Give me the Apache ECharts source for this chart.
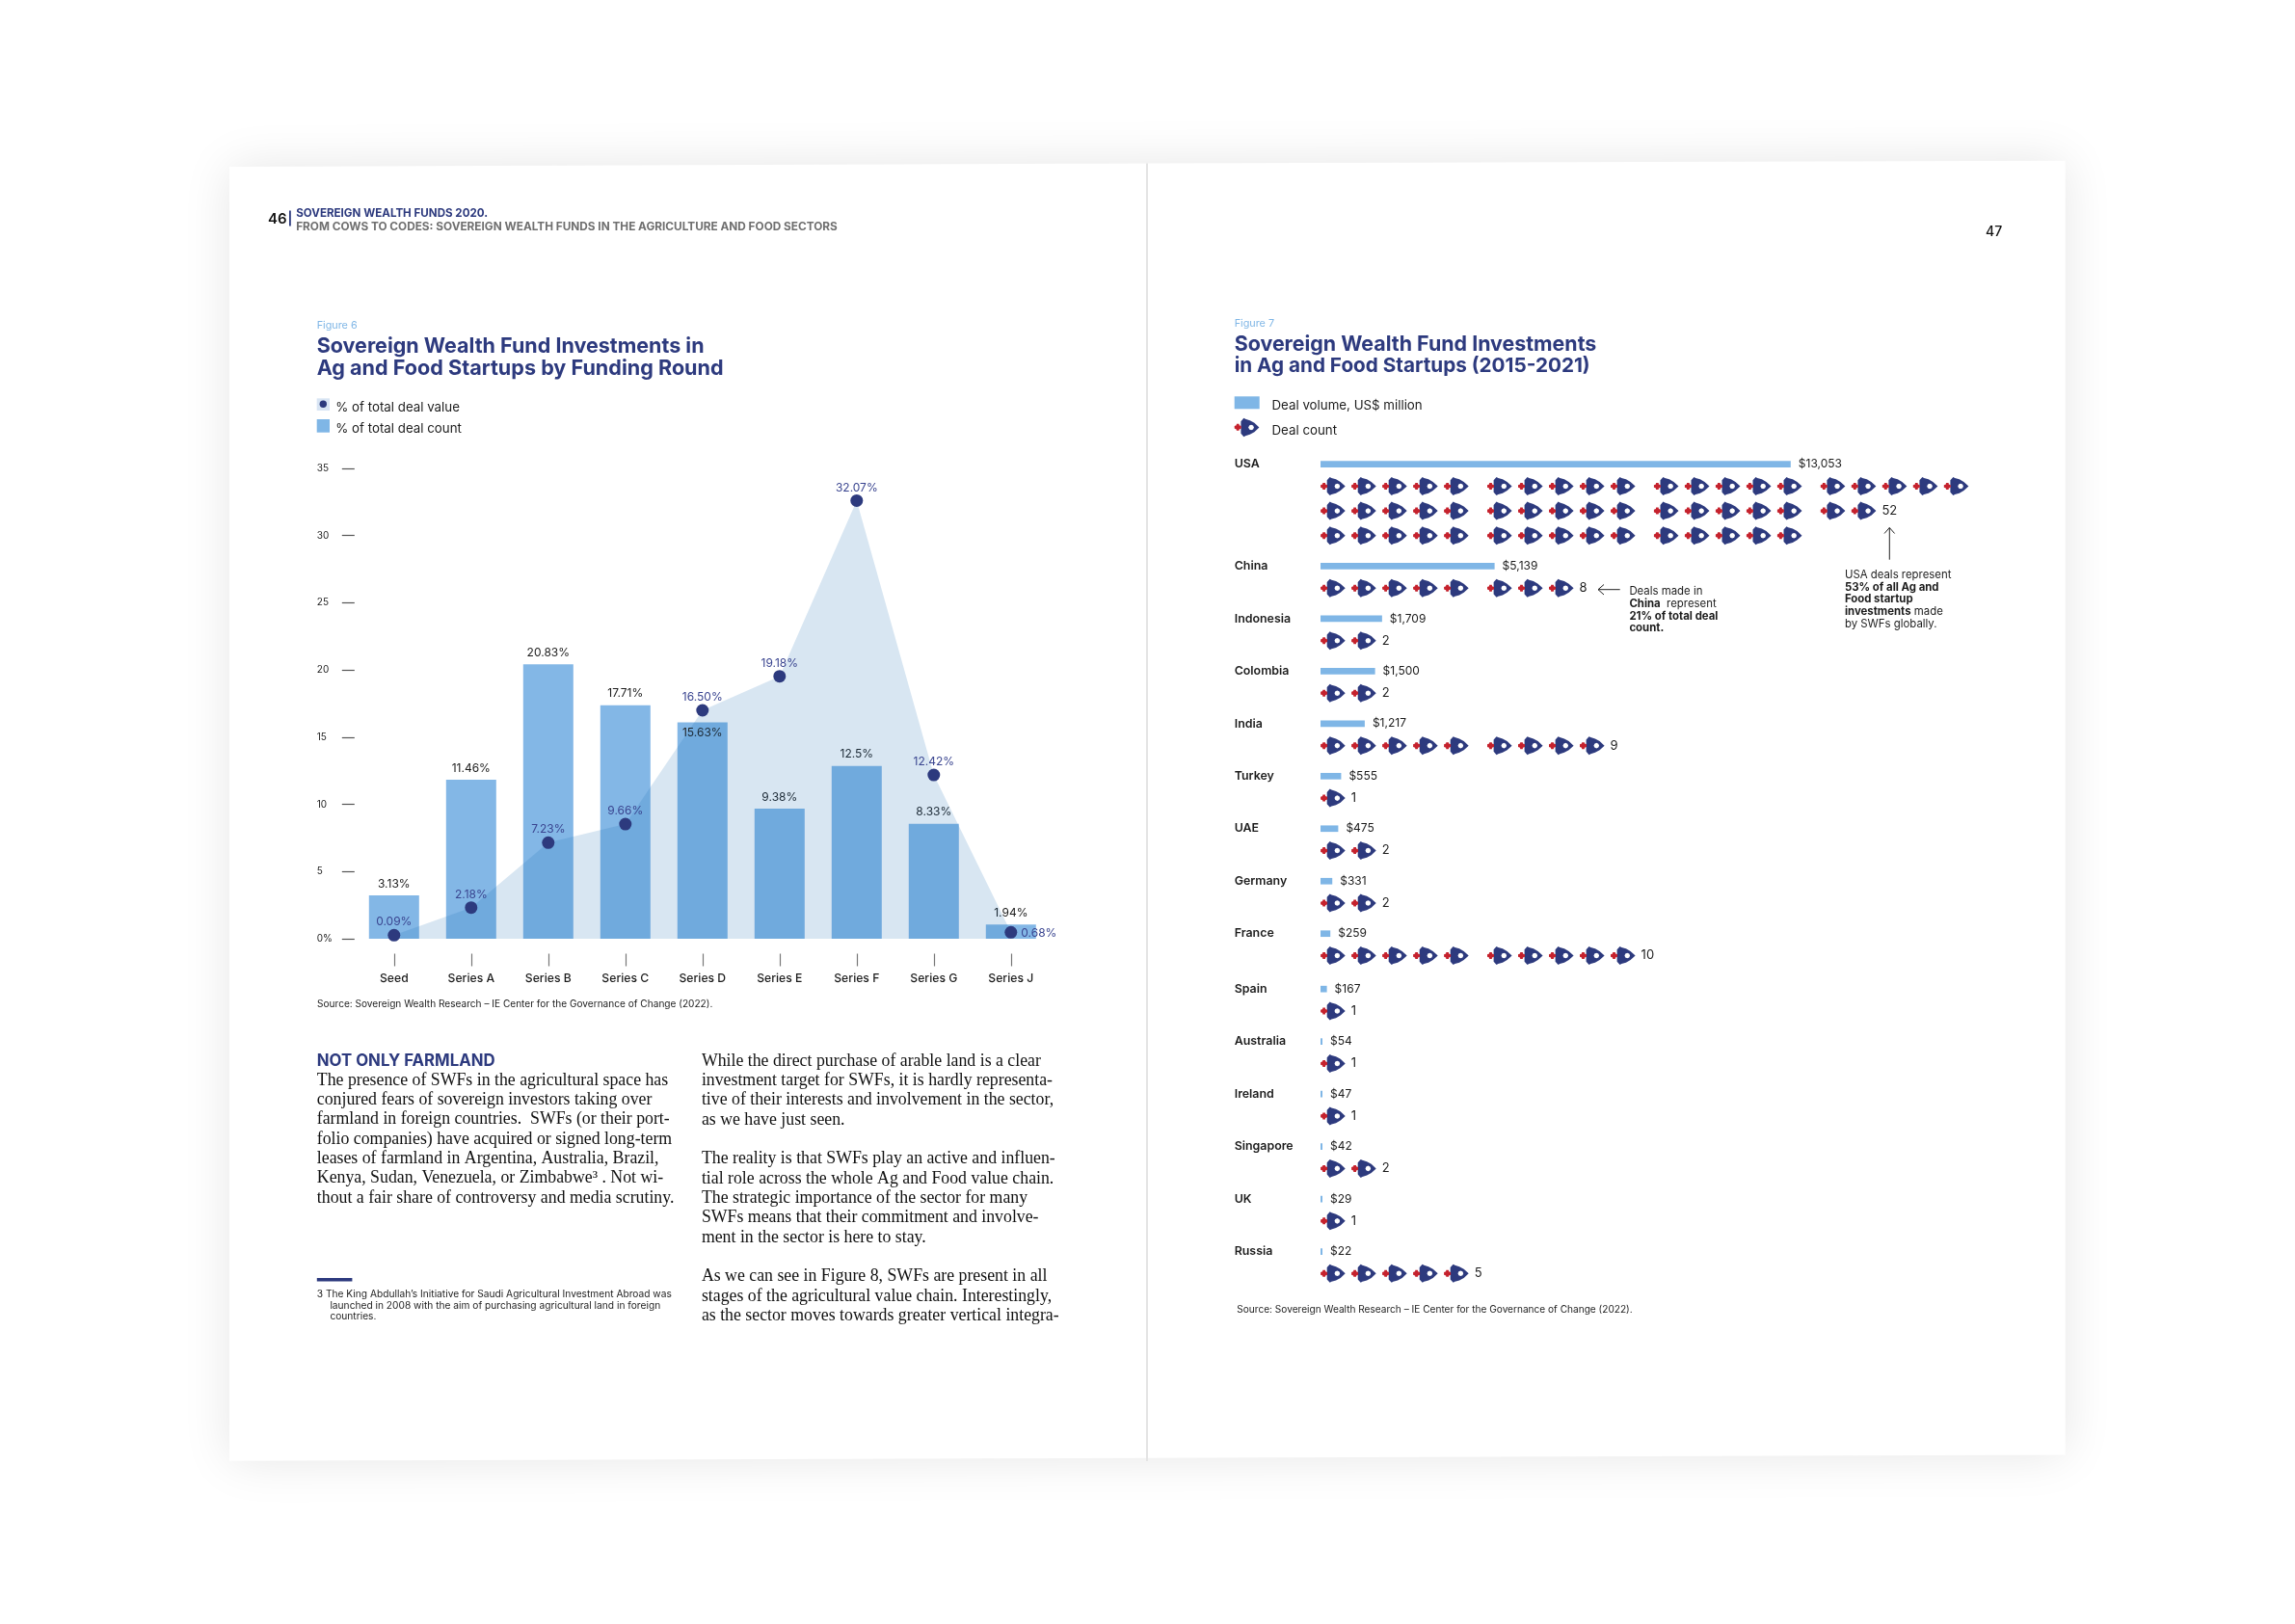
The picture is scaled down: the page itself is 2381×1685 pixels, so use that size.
<!DOCTYPE html>
<html><head><meta charset="utf-8">
<style>html,body{margin:0;padding:0;background:#fff}#c{width:2381px;height:1685px}</style>
<script src="https://cdn.jsdelivr.net/npm/echarts@6/dist/echarts.min.js"></script>
</head><body><div id="c"></div>
<script>
// ---------- Figure 6 data ----------
const rounds = ['Seed','Series A','Series B','Series C','Series D','Series E','Series F','Series G','Series J'];
const dealCount = [3.23,11.83,20.43,17.38,16.1,9.68,12.86,8.56,1.05];
const dealCountLabels = ['3.13%','11.46%','20.83%','17.71%','15.63%','9.38%','12.5%','8.33%','1.94%'];
const dealValue = [0.26,2.32,7.15,8.53,17.0,19.53,32.6,12.19,0.48];
const dealValueLabels = ['0.09%','2.18%','7.23%','9.66%','16.50%','19.18%','32.07%','12.42%','0.68%'];
const pctTicks = ['0%','5','10','15','20','25','30','35'];
// ---------- Figure 7 data ----------
const countries = ['USA','China','Indonesia','Colombia','India','Turkey','UAE','Germany','France','Spain','Australia','Ireland','Singapore','UK','Russia'];
const dealVolume = [13053,4833,1709,1515,1228,573,492,327,273,177,54,47,42,29,22];
const dealVolumeLabels = ['$13,053','$5,139','$1,709','$1,500','$1,217','$555','$475','$331','$259','$167','$54','$47','$42','$29','$22'];
const dealCounts = [52,8,2,2,9,1,2,2,10,1,1,1,2,1,5];
// ---------- Text ----------
const leftCol = ['The presence of SWFs in the agricultural space has','conjured fears of sovereign investors taking over','farmland in foreign countries.  SWFs (or their port-','folio companies) have acquired or signed long-term','leases of farmland in Argentina, Australia, Brazil,','Kenya, Sudan, Venezuela, or Zimbabwe³ . Not wi-','thout a fair share of controversy and media scrutiny.'];
const rightCol = ['While the direct purchase of arable land is a clear','investment target for SWFs, it is hardly representa-','tive of their interests and involvement in the sector,','as we have just seen.','','The reality is that SWFs play an active and influen-','tial role across the whole Ag and Food value chain.','The strategic importance of the sector for many','SWFs means that their commitment and involve-','ment in the sector is here to stay.','','As we can see in Figure 8, SWFs are present in all','stages of the agricultural value chain. Interestingly,','as the sector moves towards greater vertical integra-'];
const sourceText = 'Source: Sovereign Wealth Research – IE Center for the Governance of Change (2022).';

// ---------- Layout / style ----------
const NAVY='#2d3a7e', BLUE='#7fb6e6', SANS='Inter', SERIF='"Liberation Serif"', INK='#1c1c1c', RED='#c5222d';
const ROW=54.47, ROW0=481.7, WRAP=25.6/ROW, ROCKET_DY=22.8/ROW, SLOT=32, GROUP_GAP=12.9/SLOT;
const PX_PER_USD=487.8/13053;
const BODY_PTS=[[0,10],[9,0],[14,3],[28,7],[42,15],[57,29],[42,43],[28,51],[14,55],[9,58],[0,48]];
const HOLE_PTS=[[32,20.5],[26,23],[23.5,29],[26,35],[32,37.5],[38,35],[40.5,29],[38,23]];
const FLAME_PTS=[[2.2,0],[4.8,0],[5,1.4],[7,2.2],[7,4.8],[5,5.6],[4.8,7],[2.2,7],[2,5.6],[0,4.8],[0,2.2],[2,1.4]];
const poly=(p)=>'M'+p.map(q=>q[0]+' '+q[1]).join('L')+'Z';
const BODY='path://'+poly(BODY_PTS)+poly(HOLE_PTS);
const FLAME='path://'+poly(FLAME_PTS);
const rowY = (function(){const out=[];let y=0;countries.forEach((c,i)=>{out.push(y);y+=1;if(dealCounts[i]>20)y+=0.941;if(c==='France')y+=0.055;});return out;})();
const rocketPts=[], countPts=[];
dealCounts.forEach((n,i)=>{
  const rows=n>20?3:1, y0=rowY[i]+ROCKET_DY;
  let placed=0,last=null;
  for(let g=0;placed<n;g++){
    for(let r=0;r<rows&&placed<n;r++){
      for(let k=0;k<5&&placed<n;k++){
        const p=[(g*5+k)+g*GROUP_GAP,y0+r*WRAP];
        rocketPts.push(p);placed++;last=[p[0],p[1],n];
      }
    }
  }
  countPts.push(last);
});

function T(x,y,text,size,o){o=o||{};return {type:'text',z:10,silent:true,style:Object.assign({x:x,y:y+1.2,text:text,
  font:(o.w||400)+' '+size+'px '+(o.f||SANS),fill:o.c||INK,verticalAlign:'middle',align:o.align||'left'},o.rich?{rich:o.rich}:{})};}
const NOTE=11.4;
const BOLD={font:'700 '+NOTE+'px '+SANS,fill:INK};
const g=[];
// pages (the spread is photographed very slightly off square)
g.push({type:'polygon',z:-2,silent:true,shape:{points:[[238,173],[1190,169.5],[2142.7,166.7],[2142.7,1509.5],[1190,1512.7],[238,1515.7]]},style:{fill:'#fff',shadowBlur:50,shadowColor:'rgba(0,0,0,0.10)'}});
g.push({type:'line',z:-1,silent:true,shape:{x1:1190,y1:169.5,x2:1190,y2:1516},style:{stroke:'#e4e4e4',lineWidth:2}});
// header
g.push(T(278,226,'46',15,{w:600,c:'#111'}));
g.push({type:'rect',z:10,silent:true,shape:{x:300,y:218.5,width:1.8,height:16},style:{fill:NAVY}});
g.push(T(307.2,220,'SOVEREIGN WEALTH FUNDS 2020.',11.6,{w:700,c:NAVY}));
g.push(T(307.2,234.3,'FROM COWS TO CODES: SOVEREIGN WEALTH FUNDS IN THE AGRICULTURE AND FOOD SECTORS',11.8,{w:700,c:'#6f6f6f'}));
g.push(T(2060,240,'47',14,{w:500,c:'#111'}));
// figure 6 head
g.push(T(328.7,337,'Figure 6',10.8,{c:BLUE}));
g.push(T(328.7,358.3,'Sovereign Wealth Fund Investments in',21.5,{w:700,c:NAVY}));
g.push(T(328.7,381,'Ag and Food Startups by Funding Round',21.6,{w:700,c:NAVY}));
g.push({type:'rect',z:10,silent:true,shape:{x:328.7,y:413.3,width:13.3,height:12.7},style:{fill:'#d8e5f4'}});
g.push({type:'circle',z:11,silent:true,shape:{cx:335.3,cy:419.3,r:3.7},style:{fill:NAVY}});
g.push(T(348.3,421.7,'% of total deal value',13.3));
g.push({type:'rect',z:10,silent:true,shape:{x:328.7,y:435,width:13.3,height:13.7},style:{fill:BLUE}});
g.push(T(348.3,443.7,'% of total deal count',13.3));
g.push(T(329,1040.7,sourceText,10.1));
// body copy
g.push(T(328.8,1099.3,'NOT ONLY FARMLAND',16.8,{w:700,c:NAVY}));
leftCol.forEach((s,i)=>g.push(T(328.8,1119.7+i*20.33,s,17.8,{f:SERIF,c:'#111'})));
rightCol.forEach((s,i)=>{if(s)g.push(T(727.9,1099.7+i*20.33,s,17.8,{f:SERIF,c:'#111'}));});
g.push({type:'rect',z:10,silent:true,shape:{x:328.8,y:1326,width:36.6,height:3.4},style:{fill:NAVY}});
g.push(T(328.8,1341.7,'3 The King Abdullah’s Initiative for Saudi Agricultural Investment Abroad was',10.2));
g.push(T(342.4,1353.4,'launched in 2008 with the aim of purchasing agricultural land in foreign',10.2));
g.push(T(342.4,1365,'countries.',10.2));
// figure 7 head
g.push(T(1280.7,335,'Figure 7',10.8,{c:BLUE}));
g.push(T(1280.7,356,'Sovereign Wealth Fund Investments',21.4,{w:700,c:NAVY}));
g.push(T(1280.7,379,'in Ag and Food Startups (2015-2021)',20.7,{w:700,c:NAVY}));
g.push({type:'rect',z:10,silent:true,shape:{x:1280.7,y:411.3,width:26,height:13},style:{fill:BLUE}});
g.push(T(1319.5,419.3,'Deal volume, US$ million',13.3));
// legend rocket drawn to the same outline as the plotted symbol
const u=1/3, lx=1287.4, ly=433.8;
g.push({type:'polygon',z:10,silent:true,shape:{points:BODY_PTS.map(p=>[lx+p[0]*u,ly+p[1]*u])},style:{fill:NAVY}});
g.push({type:'polygon',z:11,silent:true,shape:{points:HOLE_PTS.map(p=>[lx+p[0]*u,ly+p[1]*u])},style:{fill:'#fff'}});
g.push({type:'polygon',z:10,silent:true,shape:{points:FLAME_PTS.map(p=>[lx-6.7+p[0],ly+6+p[1]])},style:{fill:RED}});
g.push(T(1319.5,445.7,'Deal count',13.3));
g.push(T(1283.3,1357.7,sourceText,10.1));
// annotations
const arrow=(pts)=>({type:'polyline',z:10,silent:true,shape:{points:pts},style:{stroke:'#222',lineWidth:1,fill:null}});
g.push(arrow([[1680.7,611.7],[1658,611.7]]));g.push(arrow([[1664,606.5],[1658,611.7],[1664,617]]));
g.push(arrow([[1960.3,580.7],[1960.3,547.5]]));g.push(arrow([[1955,553.5],[1960.3,547.5],[1965.6,553.5]]));
const R={b:BOLD};
g.push(T(1690.4,612,'Deals made in',NOTE));
g.push(T(1690.4,625.3,'{b|China}  represent',NOTE,{rich:R}));
g.push(T(1690.4,638.3,'21% of total deal',NOTE,{w:700}));
g.push(T(1690.4,650.3,'count.',NOTE,{w:700}));
g.push(T(1913.9,595.3,'USA deals represent',NOTE));
g.push(T(1913.9,608.3,'53% of all Ag and',NOTE,{w:700}));
g.push(T(1913.9,620.3,'Food startup',NOTE,{w:700}));
g.push(T(1913.9,633.3,'{b|investments} made',NOTE,{rich:R}));
g.push(T(1913.9,646.3,'by SWFs globally.',NOTE));

// ---------- Grids ----------
const grids=[{left:368.8,top:486,width:720,height:488}];
const xAxes=[{gridIndex:0,type:'category',data:rounds,offset:15.5,axisLine:{show:false,onZero:false},
  axisTick:{show:true,alignWithLabel:true,length:13,lineStyle:{color:'#777',width:1.2}},
  axisLabel:{margin:20,fontFamily:SANS,fontSize:12.2,fontWeight:500,color:INK,interval:0}}];
const yAxes=[{gridIndex:0,type:'value',min:0,max:35,interval:5,splitLine:{show:false},axisLine:{show:false},offset:1,
  axisTick:{show:true,length:13,lineStyle:{color:'#555',width:1.2}},
  axisLabel:{margin:39,align:'left',fontFamily:SANS,fontSize:10,color:INK,formatter:(v)=>pctTicks[v/5]}}];
const series=[
 {name:'% of total deal count',type:'bar',xAxisIndex:0,yAxisIndex:0,barWidth:52,z:2,itemStyle:{color:'#83b7e6'},
  data:dealCount.map((v,i)=>({value:v,label:{position:i===4?'insideTop':'top',distance:i===4?5:6,formatter:dealCountLabels[i]}})),
  label:{show:true,fontFamily:SANS,fontSize:12,color:INK}},
 {name:'% of total deal value',type:'line',xAxisIndex:0,yAxisIndex:0,z:3,showAllSymbol:true,symbol:'circle',symbolSize:13,
  lineStyle:{width:0},itemStyle:{color:NAVY},areaStyle:{color:'rgba(25,105,178,0.17)',opacity:1},
  data:dealValue.map((v,i)=>({value:v,label:{position:i===8?'right':'top',distance:i===8?4:1,offset:i===8?[0,1.5]:[0,0],formatter:dealValueLabels[i]}})),
  label:{show:true,fontFamily:SANS,fontSize:12,color:'#3a4590'}}
];
// volume bars, split into blocks that share one row pitch
[[0,1],[1,9],[9,15]].forEach((b,k)=>{
  const idx=k+1, names=countries.slice(b[0],b[1]), vals=dealVolume.slice(b[0],b[1]), labs=dealVolumeLabels.slice(b[0],b[1]);
  grids.push({left:1370,width:20000*PX_PER_USD,top:ROW0+rowY[b[0]]*ROW-ROW/2,height:names.length*ROW});
  xAxes.push({gridIndex:idx,type:'value',min:0,max:20000,show:false});
  yAxes.push({gridIndex:idx,type:'category',inverse:true,data:names,axisLine:{show:false},axisTick:{show:false},
    axisLabel:{margin:89.3,align:'left',interval:0,fontFamily:SANS,fontSize:12.4,fontWeight:600,color:INK}});
  series.push({name:'Deal volume, US$ million',type:'bar',xAxisIndex:idx,yAxisIndex:idx,barWidth:6.7,barMinHeight:2,
    itemStyle:{color:BLUE},data:vals,
    label:{show:true,position:'right',distance:8,fontFamily:SANS,fontSize:12,color:INK,formatter:(p)=>labs[p.dataIndex]}});
});
// rockets
grids.push({left:1386.2,width:30*SLOT,top:ROW0,height:16*ROW});
xAxes.push({gridIndex:4,type:'value',min:0,max:30,show:false});
yAxes.push({gridIndex:4,type:'value',min:0,max:16,inverse:true,show:false});
series.push({name:'Deal count',type:'scatter',xAxisIndex:4,yAxisIndex:4,symbol:BODY,symbolSize:[19,19],itemStyle:{color:NAVY,opacity:1},data:rocketPts,silent:true});
series.push({name:'Deal count flame',type:'scatter',xAxisIndex:4,yAxisIndex:4,symbol:FLAME,symbolSize:[7,7],symbolOffset:[-12.6,0],itemStyle:{color:RED,opacity:1},data:rocketPts,silent:true});
series.push({name:'Deal count label',type:'scatter',xAxisIndex:4,yAxisIndex:4,symbolSize:0,itemStyle:{opacity:1},data:countPts,silent:true,
  label:{show:true,position:'right',distance:15.5,offset:[0,2.4],fontFamily:SANS,fontSize:13,color:INK,formatter:(p)=>String(p.value[2])},labelLayout:{hideOverlap:false}});

const chart=echarts.init(document.getElementById('c'),null,{renderer:'canvas',width:2381,height:1685});
chart.setOption({animation:false,backgroundColor:'#fff',grid:grids,xAxis:xAxes,yAxis:yAxes,series:series,graphic:{elements:g},tooltip:{show:false}});
</script></body></html>
